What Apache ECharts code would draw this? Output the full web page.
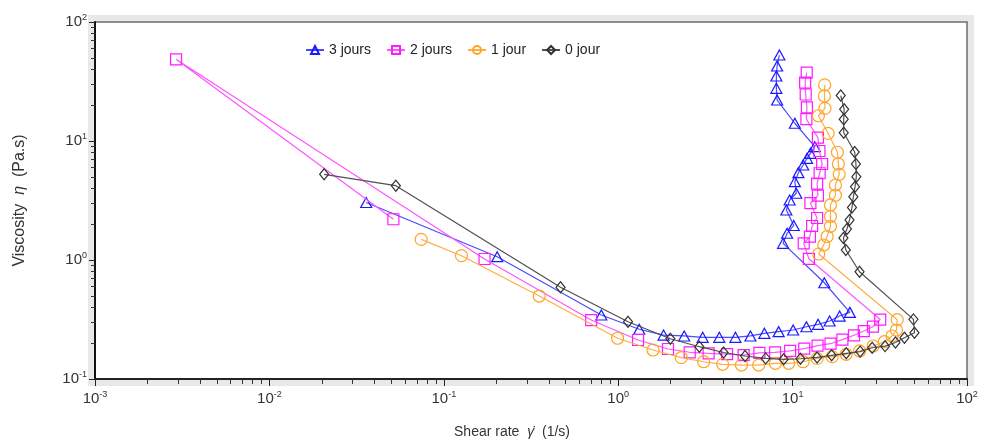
<!DOCTYPE html>
<html>
<head>
<meta charset="utf-8">
<script src="https://cdn.jsdelivr.net/npm/echarts@6/dist/echarts.min.js"></script>
<style>
html,body{margin:0;padding:0;background:#fff;}
#chart{width:983px;height:441px;}
</style>
</head>
<body>
<div id="chart"></div>
<script>
// ---- data (shear rate 1/s, viscosity Pa.s) ----
const seriesNames = ['3 jours', '2 jours', '1 jour', '0 jour'];

const jours3X = [0.0359,0.2024,0.80,1.32,1.82,2.39,3.05,3.80,4.70,5.73,6.89,8.32,10.07,12.0,14.0,16.3,18.6,21.3,15.2,8.82,9.30,10.15,9.21,9.62,10.5,10.3,10.8,11.5,12.1,12.65,13.4,10.3,8.15,8.07,8.07,8.15,8.40];
const jours3Y = [3.04,1.066,0.345,0.262,0.234,0.23,0.224,0.224,0.224,0.23,0.242,0.25,0.258,0.275,0.288,0.307,0.338,0.363,0.644,1.381,1.677,1.95,2.63,3.19,3.64,4.55,5.42,6.29,7.15,7.88,8.96,14.1,22.1,27.7,35.2,42.7,52.8];

const jours2X = [0.0514,0.002915,0.1712,0.70,1.30,1.93,2.57,3.30,4.21,5.24,6.45,7.94,9.68,11.66,13.9,16.5,19.3,22.5,25.6,28.9,31.8,12.4,11.58,12.57,12.94,13.82,12.65,13.97,13.82,14.29,14.77,14.25,13.97,12.0,12.08,11.89,11.8,12.05];
const jours2Y = [2.20,48.6,1.02,0.313,0.2127,0.1787,0.1677,0.1644,0.162,0.159,0.166,0.1677,0.1726,0.1797,0.191,0.198,0.214,0.233,0.253,0.275,0.316,1.023,1.381,1.57,1.93,2.254,3.0,3.48,4.38,5.36,6.41,8.24,10.66,15.25,19.2,24.6,30.9,37.6];

const jour1X = [0.0742,0.1263,0.3526,0.992,1.584,2.30,3.09,3.97,5.09,6.39,7.97,9.50,11.49,13.82,16.85,20.3,24.2,28.96,33.6,37.2,39.4,39.8,14.12,15.08,15.77,16.48,16.48,16.48,17.6,17.6,18.5,18.3,18.07,15.98,14.06,15.32,15.23,15.27];
const jour1Y = [1.49,1.087,0.498,0.22,0.1753,0.151,0.1397,0.1329,0.131,0.131,0.1355,0.1355,0.1397,0.149,0.154,0.1613,0.172,0.1893,0.2058,0.2297,0.258,0.315,1.123,1.337,1.576,1.92,2.32,2.90,3.50,4.27,5.25,6.41,8.04,11.6,16.3,18.8,23.9,29.6];

const jour0X = [0.0206,0.0531,0.467,1.138,1.99,2.92,4.02,5.34,7.01,8.89,11.09,13.82,16.74,20.3,24.4,28.6,33.9,38.9,43.8,50.0,49.3,24.2,20.2,19.56,20.5,21.2,21.9,22.3,22.8,23.2,23.08,22.7,19.64,19.64,19.75,18.88];
const jour0Y = [5.25,4.21,0.59,0.303,0.218,0.1868,0.167,0.156,0.149,0.1464,0.148,0.1517,0.1582,0.1644,0.170,0.183,0.1887,0.2026,0.222,0.245,0.317,0.797,1.213,1.53,1.822,2.17,2.76,3.40,4.13,5.01,6.41,8.08,11.74,15.22,18.5,24.1];

// ---- axis ticks ----
const xMajorTicks = [0.001, 0.01, 0.1, 1, 10, 100];
const xTickExponents = ['-3', '-2', '-1', '0', '1', '2'];
const yMajorTicks = [0.1, 1, 10, 100];
const yTickExponents = ['-1', '0', '1', '2'];
const minorMultipliers = [2, 3, 4, 5, 6, 7, 8, 9];

function minorTicks(majors) {
  const out = [];
  for (let i = 0; i < majors.length - 1; i++) {
    minorMultipliers.forEach(m => out.push(+(majors[i] * m).toPrecision(6)));
  }
  return out;
}
function expOf(v, majors, exps) {
  for (let i = 0; i < majors.length; i++) {
    if (Math.abs(v / majors[i] - 1) < 1e-6) return exps[i];
  }
  return '';
}
function zip(xs, ys) { return xs.map((x, i) => [x, ys[i]]); }

const FONT = 'Liberation Sans, Arial, sans-serif';
const labelRich = {
  b: { fontFamily: FONT, fontSize: 15, color: '#333', lineHeight: 18 },
  s: { fontFamily: FONT, fontSize: 9, color: '#333', lineHeight: 9, verticalAlign: 'top' }
};

const colors = ['#1a1aff', '#ff1aff', '#ffa52a', '#333333'];
const lineColors = ['#4a4aff', '#ff55ff', '#ffae45', '#505050'];
const symbols = ['triangle', 'rect', 'circle', 'diamond'];
const symbolSizes = [[11, 10], 11, 12, [9, 11]];
const dataSets = [zip(jours3X, jours3Y), zip(jours2X, jours2Y), zip(jour1X, jour1Y), zip(jour0X, jour0Y)];

const chart = echarts.init(document.getElementById('chart'), null, { renderer: 'canvas' });

const gridLeft = 95, gridTop = 22, gridRight = 16, gridBottom = 62;

chart.setOption({
  backgroundColor: '#ffffff',
  animation: false,
  graphic: [{
    type: 'rect', z: -10, silent: true,
    shape: { x: gridLeft - 7, y: gridTop - 7, width: 983 - gridLeft - gridRight + 14, height: 441 - gridTop - gridBottom + 14 },
    style: { fill: '#e8e8e8' }
  }],
  grid: {
    left: gridLeft, top: gridTop, right: gridRight, bottom: gridBottom,
    containLabel: false, outerBoundsMode: 'none',
    show: true, backgroundColor: '#ffffff', borderColor: '#6e6e6e', borderWidth: 1.5
  },
  legend: {
    left: 300, top: 38,
    itemWidth: 18, itemHeight: 10, itemGap: 15,
    textStyle: { fontFamily: FONT, fontSize: 14, color: '#222' },
    data: seriesNames
  },
  xAxis: [{
    type: 'log', logBase: 10, min: 0.001, max: 100,
    position: 'bottom',
    name: '{n|Shear rate  }{i|γ̇}{n|  (1/s)}',
    nameLocation: 'middle', nameGap: 46,
    nameTextStyle: { padding: [0, 38, 0, 0], rich: {
      n: { fontFamily: FONT, fontSize: 14, color: '#333' },
      i: { fontFamily: FONT, fontSize: 14, color: '#333', fontStyle: 'italic' }
    } },
    axisLine: { show: true, onZero: false, lineStyle: { color: '#222', width: 2 } },
    axisTick: { show: true, inside: false, length: 7, customValues: xMajorTicks, lineStyle: { color: '#222', width: 1 } },
    axisLabel: {
      customValues: xMajorTicks, margin: 11,
      formatter: v => '{b|10}{s|' + expOf(v, xMajorTicks, xTickExponents) + '}',
      rich: labelRich
    },
    splitLine: { show: false }
  }, {
    type: 'log', logBase: 10, min: 0.001, max: 100,
    position: 'bottom',
    axisLine: { show: false },
    axisTick: { show: true, inside: false, length: 5, customValues: minorTicks(xMajorTicks), lineStyle: { color: '#333', width: 1 } },
    axisLabel: { show: false },
    splitLine: { show: false }
  }],
  yAxis: [{
    type: 'log', logBase: 10, min: 0.1, max: 100,
    position: 'left',
    name: '{n|Viscosity  }{i|η}{n|  (Pa.s)}',
    nameLocation: 'middle', nameGap: 67, nameRotate: 90,
    nameTextStyle: { rich: {
      n: { fontFamily: FONT, fontSize: 16, color: '#333' },
      i: { fontFamily: FONT, fontSize: 16, color: '#333', fontStyle: 'italic' }
    } },
    axisLine: { show: true, onZero: false, lineStyle: { color: '#111', width: 2 } },
    axisTick: { show: true, inside: false, length: 6, customValues: yMajorTicks, lineStyle: { color: '#222', width: 1 } },
    axisLabel: {
      customValues: yMajorTicks, margin: 8,
      formatter: v => '{b|10}{s|' + expOf(v, yMajorTicks, yTickExponents) + '}',
      rich: labelRich
    },
    splitLine: { show: false }
  }, {
    type: 'log', logBase: 10, min: 0.1, max: 100,
    position: 'left',
    axisLine: { show: false },
    axisTick: { show: true, inside: false, length: 4, customValues: minorTicks(yMajorTicks), lineStyle: { color: '#333', width: 1 } },
    axisLabel: { show: false },
    splitLine: { show: false }
  }],
  series: seriesNames.map((name, i) => ({
    name: name,
    type: 'line',
    xAxisIndex: 0, yAxisIndex: 0,
    data: dataSets[i],
    color: colors[i],
    showSymbol: true,
    symbol: symbols[i],
    symbolSize: symbolSizes[i],
    itemStyle: { color: 'rgba(255,255,255,0)', borderColor: colors[i], borderWidth: 1.2 },
    lineStyle: { color: lineColors[i], width: 1.2 },
    emphasis: { disabled: true },
    z: 2 + i
  }))
});
</script>
</body>
</html>
